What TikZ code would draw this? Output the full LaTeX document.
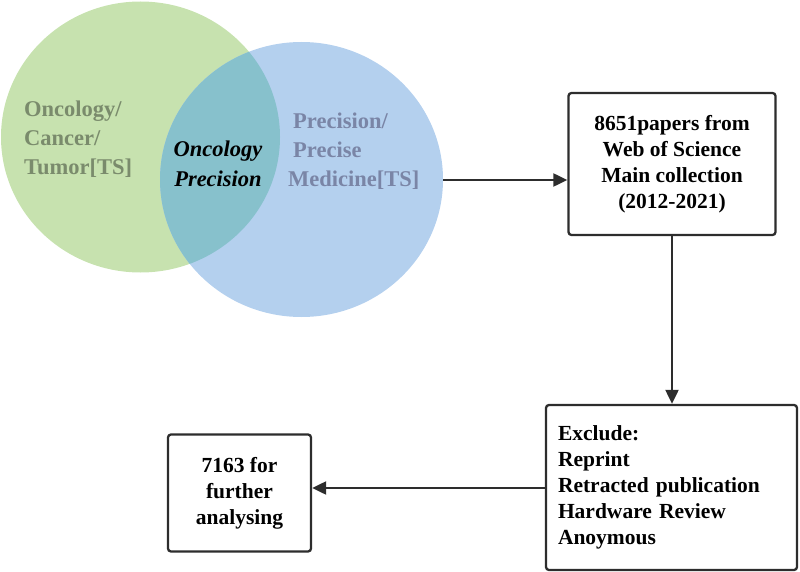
\documentclass[tikz,border=0pt]{standalone}
\usepackage{fontspec}
\setmainfont{Liberation Serif}
\usetikzlibrary{arrows.meta}
\definecolor{vgreen}{RGB}{199,226,175}
\definecolor{vblue}{RGB}{180,208,238}
\definecolor{vboth}{RGB}{135,193,204}
\definecolor{gtext}{RGB}{122,139,108}
\definecolor{btext}{RGB}{122,133,166}
\definecolor{linec}{RGB}{45,45,45}
\tikzset{
  flowbox/.style={draw=linec, line width=2.3pt, rounded corners=3pt, fill=white,
    font=\fontsize{21.5}{26}\selectfont\bfseries, inner sep=0pt},
  flowarrow/.style={draw=linec, line width=2.1pt, -{Triangle[length=14pt,width=13pt]}},
  circtext/.style={font=\fontsize{22.5}{28.7}\selectfont\bfseries, inner sep=0pt, align=left, anchor=north west}
}
\begin{document}
\begin{tikzpicture}[x=1pt,y=-1pt]
\useasboundingbox (0,0) rectangle (800,572);
% Venn circles
\fill[vgreen] (140.5,137) ellipse [x radius=139.5, y radius=135.5];
\fill[vblue] (301.5,179.5) ellipse [x radius=141.5, y radius=137.5];
\begin{scope}
  \clip (140.5,137) ellipse [x radius=139.5, y radius=135.5];
  \fill[vboth] (301.5,179.5) ellipse [x radius=141.5, y radius=137.5];
\end{scope}
\coordinate (bluer) at (443,180);
\node[circtext, text=gtext] (setA) at (24,101) {Oncology/\\Cancer/\\Tumor[TS]};
\node[circtext, text=btext] (setB) at (288,113) {\hspace*{5pt}Precision/\\\hspace*{5pt}Precise\\Medicine[TS]};
\node[font=\fontsize{22.5}{29.5}\selectfont\bfseries\itshape, inner sep=0pt, align=center, anchor=north] (both) at (218,141) {Oncology\\Precision};
% boxes
\node[flowbox, minimum width=207pt, minimum height=142pt, align=center] (b1) at (672,164) {8651papers from\\Web of Science\\Main collection\\(2012-2021)};
\node[flowbox, minimum width=251pt, minimum height=165pt, align=left, text width=227pt] (b2) at (671.5,487.5) {Exclude:\\Reprint\\Retracted publication\\Hardware Review\\Anoymous};
\node[flowbox, minimum width=143pt, minimum height=117pt, align=center] (b3) at (239.5,493) {7163 for\\further\\analysing};
% connectors
\draw[flowarrow] (bluer) -- (b1.west |- bluer);
\draw[flowarrow] (b1.south) -- (b1.south |- b2.north);
\draw[flowarrow] (b2.west |- 0,488) -- (b3.east |- 0,488);
\end{tikzpicture}
\end{document}
